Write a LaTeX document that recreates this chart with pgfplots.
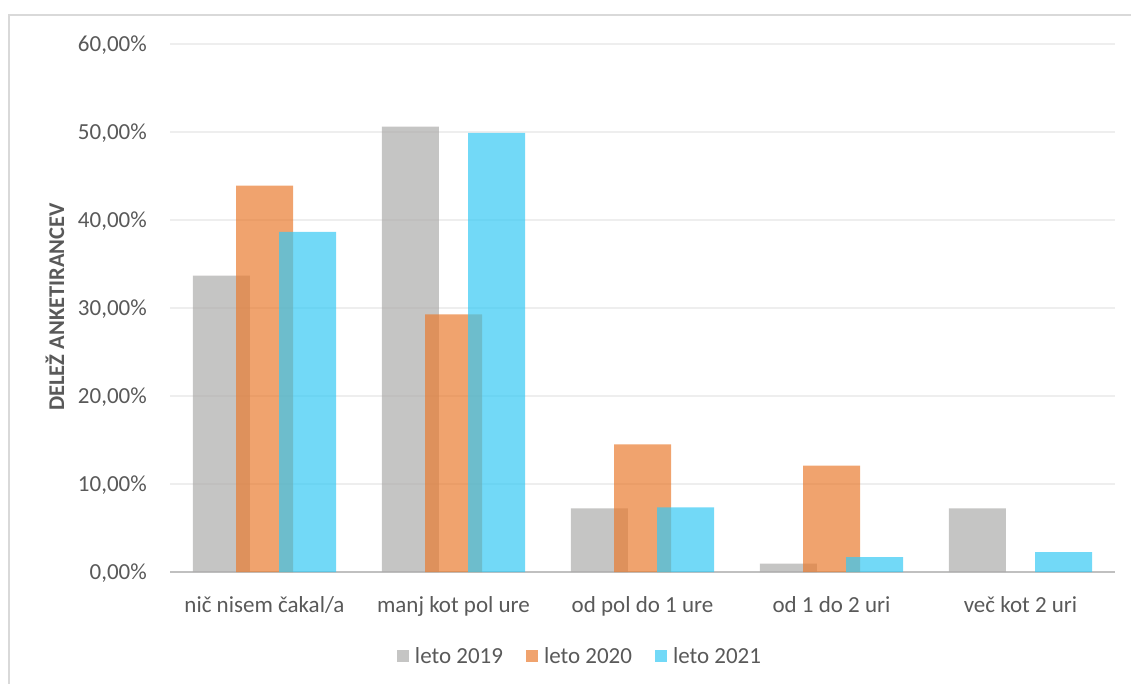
\documentclass[border=0pt]{standalone}
\usepackage{fontspec}
\setmainfont{Carlito}
\usepackage{pgfplots}
\pgfplotsset{compat=1.18}

\definecolor{txt}{HTML}{595959}
\definecolor{c19}{HTML}{ADACAB}
\definecolor{c20}{HTML}{E97C30}
\definecolor{c21}{HTML}{36C9F4}
\definecolor{gridc}{HTML}{EEEEEE}
\definecolor{framec}{HTML}{D9D9D9}
\definecolor{axisc}{HTML}{C0C0C0}

\begin{document}
\begin{tikzpicture}
% page area and chart frame
\path[use as bounding box] (0bp,0bp) rectangle (1131bp,-684bp);
\draw[framec, line width=2bp] (9bp,-684bp) -- (9bp,-14.5bp) -- (1131bp,-14.5bp);

\begin{axis}[
  at={(170bp,-572bp)}, anchor=south west,
  scale only axis, width=945bp, height=528bp,
  xmin=-0.5, xmax=4.5, ymin=0, ymax=60,
  xtick={0,1,2,3,4},
  xticklabels={nič nisem čakal/a, manj kot pol ure, od pol do 1 ure, od 1 do 2 uri, več kot 2 uri},
  ytick={0,10,20,30,40,50,60},
  yticklabels={{0,00\%},{10,00\%},{20,00\%},{30,00\%},{40,00\%},{50,00\%},{60,00\%}},
  major tick length=0pt,
  ticklabel style={font=\fontsize{23bp}{27bp}\selectfont, text=txt, inner sep=0pt},
  xticklabel style={anchor=base, yshift=-40bp},
  yticklabel style={anchor=base east, xshift=-23bp, yshift=-7bp},
  ymajorgrids,
  grid style={gridc, line width=1.5bp},
  axis x line*=bottom, axis y line*=left,
  y axis line style={draw=none},
  x axis line style={axisc, line width=2bp},
  ylabel={DELEŽ ANKETIRANCEV},
  ylabel style={at={(axis description cs:-0.1217,0.502)}, anchor=center,
    font=\bfseries\fontsize{22.5bp}{26bp}\selectfont, text=txt},
  legend columns=3,
  legend image code/.code={\fill[#1] (0bp,-6bp) rectangle (12bp,6bp);},
  legend style={at={(axis description cs:0.4339,-0.1591)}, anchor=center,
    draw=none, fill=none, inner sep=0pt,
    font=\fontsize{23bp}{27bp}\selectfont, text=txt,
    /tikz/every odd column/.append style={column sep=4bp},
    /tikz/every even column/.append style={column sep=21bp}},
  legend cell align=left,
]
\addplot[ybar, bar width=0.3016, bar shift=-0.228, fill=c19, draw=none, fill opacity=0.7]
  coordinates {(0,33.67) (1,50.6) (2,7.24) (3,0.94) (4,7.24)};
% no answers in the last category for 2020
\addplot[ybar, bar width=0.3016, bar shift=0, fill=c20, draw=none, fill opacity=0.7]
  coordinates {(0,43.9) (1,29.28) (2,14.51) (3,12.08)};
\addplot[ybar, bar width=0.3016, bar shift=0.228, fill=c21, draw=none, fill opacity=0.7]
  coordinates {(0,38.64) (1,49.89) (2,7.35) (3,1.7) (4,2.27)};
\legend{leto 2019, leto 2020, leto 2021}
\end{axis}
\end{tikzpicture}
\end{document}
